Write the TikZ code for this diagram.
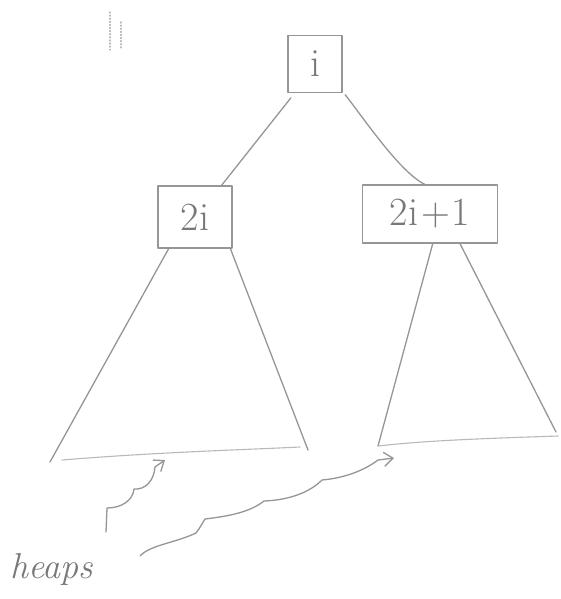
\documentclass[tikz,border=0pt]{standalone}
\usetikzlibrary{arrows.meta,calc}
\definecolor{sk}{RGB}{150,150,150}
\definecolor{skt}{RGB}{120,120,120}
\definecolor{skl}{RGB}{185,185,185}
\begin{document}
\begin{tikzpicture}[x=1pt,y=-1pt,
  sketch/.style={draw=sk,line width=1.3pt,line cap=round,line join=round},
  faint/.style={draw=skl,line width=1.1pt,line cap=round},
  keybox/.style={sketch,rectangle,inner sep=0pt,text=skt,font=\fontsize{40}{42}\selectfont},
  wavy/.style={sketch,-{Straight Barb[length=9pt,width=14pt,line width=1.3pt]}}]
\useasboundingbox[fill=white] (0,0) rectangle (560,599);
% faint scan marks
\draw[faint,dotted] (110,12) -- (110,50);
\draw[faint,dotted] (121,22) -- (121,48);
% nodes
\node[keybox,minimum width=54pt,minimum height=57pt] (i) at (315,64) {i};
\node[keybox,minimum width=74pt,minimum height=62pt] (a) at (195,217) {2i};
\node[keybox,minimum width=135pt,minimum height=58pt] (b) at (430,214) {2i\kern3pt+\kern2pt1};
% connectors
\draw[sketch,shorten <=6pt] (i.235) -- (a.50);
\draw[sketch,shorten <=4pt] (i.-45) .. controls +(20,25) and +(-25,-12) .. (b.100);
% left subtree
\coordinate (la) at ($(a.south west)!0.15!(a.south east)$);
\coordinate (lb) at ($(a.south west)!0.97!(a.south east)$);
\coordinate (l1) at (50,462);
\coordinate (l2) at (308,450);
\draw[sketch] (la) -- (l1);
\draw[sketch] (lb) -- (l2);
\draw[faint] (l1)+(12,-2) .. controls (160,452) and (240,450) .. (300,447);
% right subtree
\coordinate (ra) at ($(b.south west)!0.52!(b.south east)$);
\coordinate (rb) at ($(b.south west)!0.72!(b.south east)$);
\coordinate (r1) at (378,446);
\coordinate (r2) at (556,432);
\draw[sketch] (ra) -- (r1);
\draw[sketch] (rb) -- (r2);
\draw[faint] (r1) .. controls (430,440) and (500,438) .. (558,436);
% heaps label
\node[anchor=base west,text=skt,inner sep=0pt,font=\fontsize{36}{38}\selectfont\itshape] (h) at (10,578) {heaps};
% squiggly arrows
\coordinate (s1) at (106,532);
\coordinate (t1) at (165,460);
\draw[wavy] (s1) -- (107,508)
  .. controls (122,508) and (133,500) .. (134,489)
  .. controls (146,490) and (154,480) .. (155,467)
  -- (t1);
\coordinate (s2) at (140,556);
\coordinate (t2) at (394,458);
\draw[wavy] (s2) .. controls (150,545) and (175,543) .. (196,533)
  .. controls (200,528) and (203,522) .. (205,519)
  .. controls (230,516) and (250,512) .. (264,501)
  .. controls (290,500) and (310,492) .. (322,480)
  .. controls (345,478) and (365,470) .. (378,460)
  -- (t2);
\end{tikzpicture}
\end{document}
